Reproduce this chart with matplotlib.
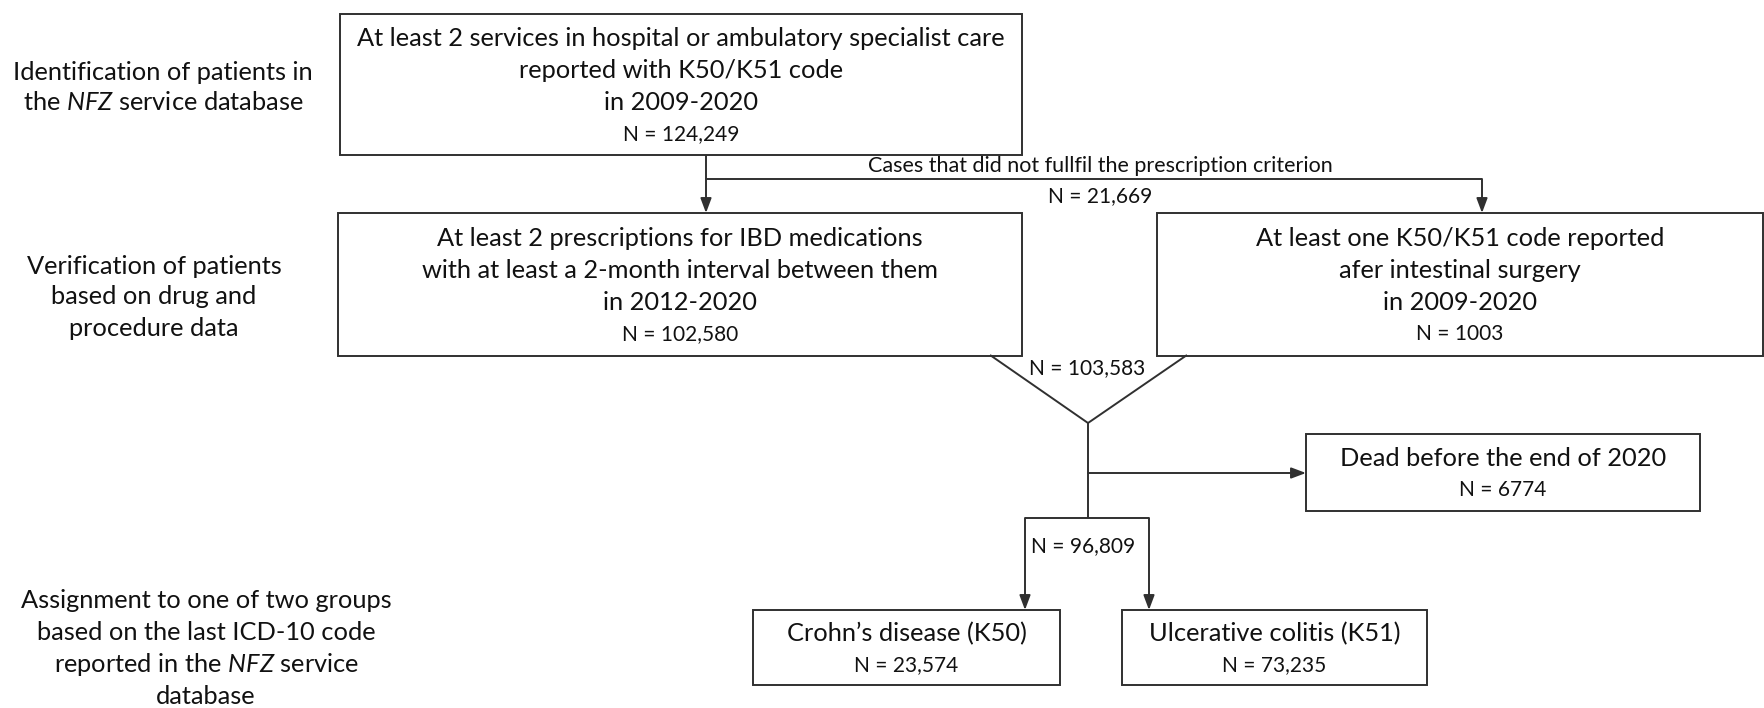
import matplotlib
matplotlib.use("Agg")
import matplotlib.pyplot as plt
from matplotlib.patches import Rectangle

plt.rcParams['font.family'] = ['Lato', 'DejaVu Sans']
plt.rcParams['mathtext.fontset'] = 'custom'
plt.rcParams['mathtext.rm'] = 'Lato'
plt.rcParams['mathtext.it'] = 'Lato:italic'

# box texts: main lines, then the count
box_names = ['screen', 'drugs', 'surgery', 'dead', 'crohn', 'uc']
box_lines = [
    ['At least 2 services in hospital or ambulatory specialist care',
     'reported with K50/K51 code', 'in 2009-2020'],
    ['At least 2 prescriptions for IBD medications',
     'with at least a 2-month interval between them', 'in 2012-2020'],
    ['At least one K50/K51 code reported', 'afer intestinal surgery', 'in 2009-2020'],
    ['Dead before the end of 2020'],
    ['Crohn\u2019s disease (K50)'],
    ['Ulcerative colitis (K51)'],
]
box_counts = [124249, 102580, 1003, 6774, 23574, 73235]

# flow labels
excluded_label = 'Cases that did not fullfil the prescription criterion'
excluded_n = 21669
merged_n = 103583
alive_n = 96809

stage_labels = [
    ['Identification of patients in', 'the $\\mathit{NFZ}$ service database'],
    ['Verification of patients', 'based on drug and', 'procedure data'],
    ['Assignment to one of two groups', 'based on the last ICD-10 code',
     'reported in the $\\mathit{NFZ}$ service', 'database'],
]


def fmt_n(v):
    # the source writes four digit counts without separator
    return 'N = %d' % v if v < 10000 else 'N = {:,}'.format(v)


# layout in pixels (x right, y down)
boxes = {
    'screen': (340, 14, 1022, 155),
    'drugs': (338, 213, 1022, 356),
    'surgery': (1157, 213, 1763, 356),
    'dead': (1306, 434, 1700, 511),
    'crohn': (753, 610, 1060, 685),
    'uc': (1122, 610, 1427, 685),
}
stage_pos = [(163, 72, 31), (154, 266, 31), (206, 600, 32)]

W, H = 1765, 708
fig = plt.figure(figsize=(W / 100, H / 100), dpi=100)
ax = fig.add_axes([0, 0, 1, 1])
ax.set_xlim(0, W)
ax.set_ylim(H, 0)
ax.axis('off')

LC = '#303030'
TC = '#111111'
BIG = 18.3
SMALL = 15
STEP = 32

for name, lines, n in zip(box_names, box_lines, box_counts):
    x0, y0, x1, y1 = boxes[name]
    ax.add_patch(Rectangle((x0, y0), x1 - x0, y1 - y0, fill=False,
                           ec=LC, lw=1.4, zorder=2))
    rows = lines + [fmt_n(n)]
    cy = (y0 + y1) / 2 + 2
    top = cy - STEP * (len(rows) - 1) / 2
    for i, r in enumerate(rows):
        ax.text((x0 + x1) / 2, top + i * STEP, r, ha='center', va='center',
                fontsize=SMALL if i == len(rows) - 1 else BIG, color=TC)

for lines, (cx, y, step) in zip(stage_labels, stage_pos):
    for i, r in enumerate(lines):
        ax.text(cx, y + i * step, r, ha='center', va='center', fontsize=BIG,
                color=TC)


def line(xs, ys):
    ax.plot(xs, ys, color=LC, lw=1.4, solid_capstyle='butt', zorder=1)


def arrow(x0, y0, x1, y1):
    ax.annotate('', xy=(x1, y1), xytext=(x0, y0),
                arrowprops=dict(arrowstyle='-|>,head_length=0.8,head_width=0.3',
                                color=LC, lw=1.4, shrinkA=0, shrinkB=0,
                                mutation_scale=11))


# screening -> drugs / surgery
main_x, split_y = 706, 179
line([main_x, main_x], [155, split_y])
arrow(main_x, split_y, main_x, 213)
line([main_x, 1482], [split_y, split_y])
arrow(1482, split_y, 1482, 213)
ax.text(1100, 166, excluded_label, ha='center', va='center', fontsize=15.5,
        color=TC)
ax.text(1100, 196, fmt_n(excluded_n), ha='center', va='center', fontsize=SMALL,
        color=TC)

# merge of both verified groups
apex_x, apex_y = 1088, 423
line([990, apex_x, 1187], [355, apex_y, 355])
ax.text(1087, 368, fmt_n(merged_n), ha='center', va='center', fontsize=SMALL,
        color=TC)

# deaths and the final split
line([apex_x, apex_x], [apex_y, 518])
arrow(apex_x, 473, 1306, 473)
line([1025, 1149], [518, 518])
arrow(1025, 518, 1025, 610)
arrow(1149, 518, 1149, 610)
ax.text(1083, 546, fmt_n(alive_n), ha='center', va='center', fontsize=SMALL,
        color=TC)

fig.savefig('out.png', dpi=100, facecolor='white')
